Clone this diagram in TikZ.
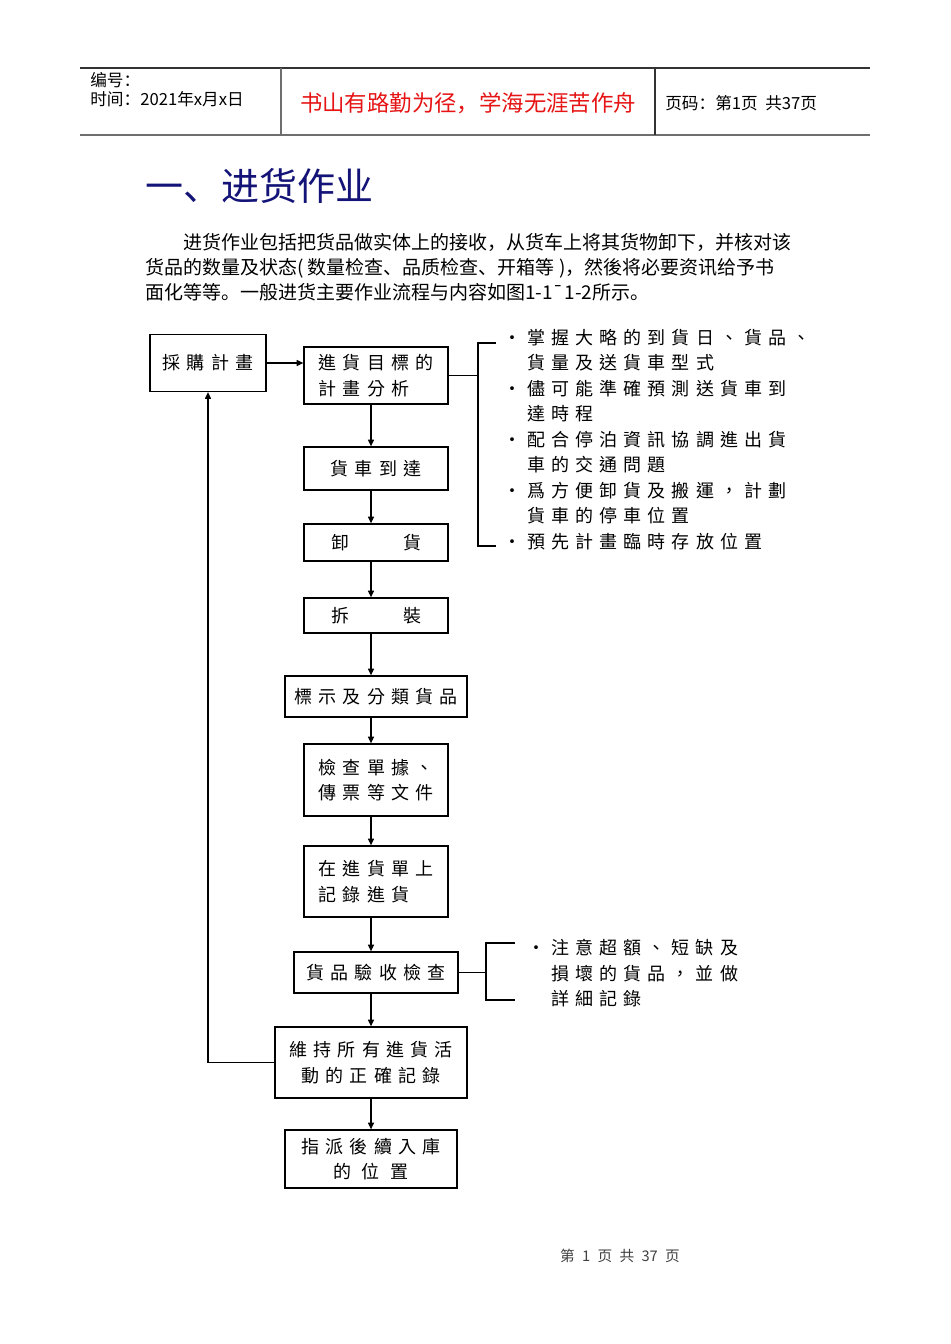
\documentclass[tikz,border=0pt]{standalone}
\usepackage{fontspec}
\usepackage{xcolor}
\usepackage{tikz}
\usetikzlibrary{positioning, arrows.meta, calc}
\setmainfont{Noto Sans CJK SC}
\newfontfamily\scfont{Noto Sans CJK SC}
\newfontfamily\tcfont[LetterSpace=34]{Noto Sans CJK TC}
\definecolor{TitleBlue}{RGB}{20,20,120}
\definecolor{MottoRed}{RGB}{230,20,20}
\definecolor{RuleGray}{RGB}{110,110,110}
\tikzset{
  flowbox/.style={draw=black, line width=1pt, fill=white, inner sep=2pt, align=center,
    font=\tcfont\fontsize{13.5}{19}\selectfont},
  arr/.style={-{Triangle[length=5pt,width=4.5pt]}, line width=0.8pt},
  brk/.style={line width=0.8pt},
  notes/.style={anchor=north west, inner sep=0pt, align=left,
    font=\tcfont\fontsize{13.5}{19.1}\selectfont},
  hdtxt/.style={anchor=west, inner sep=0pt, font=\scfont\fontsize{12.5}{15}\selectfont},
}
\newcommand{\bul}{\makebox[18pt][l]{\textbullet}}
\newcommand{\ind}{\hspace*{18pt}}

\begin{document}
\begin{tikzpicture}[x=0.75pt, y=-0.75pt]
    \fill[white] (0,0) rectangle (950,1344);
    \useasboundingbox (0,0) rectangle (950,1344);
    % page header
    \draw[line width=0.8pt, black!80] (80,68) -- (870,68);
    \draw[line width=1.4pt, RuleGray] (80,135) -- (870,135);
    \draw[line width=0.8pt, RuleGray] (281,68) -- (281,135);
    \draw[line width=0.8pt, black!80] (655,68) -- (655,135);
    \node[hdtxt] (no) at (90,80) {编号：};
    \node[hdtxt] (date) at (90,99) {时间：2021年x月x日};
    \node[font=\scfont\fontsize{16.8}{20}\selectfont, text=MottoRed] (motto) at (468,103) {书山有路勤为径，学海无涯苦作舟};
    \node[hdtxt] (pg) at (665,103) {页码：第1页\ \ 共37页};
    % title and text
    \node[anchor=west, inner sep=0pt, text=TitleBlue, font=\scfont\fontsize{28.5}{32}\selectfont] (title) at (145,186) {一、进货作业};
    \node[anchor=north west, inner sep=0pt, align=left, font=\scfont\fontsize{14.25}{18.75}\selectfont] (intro) at (145,233)
      {\hspace*{28.5pt}进货作业包括把货品做实体上的接收，从货车上将其货物卸下，并核对该\\
       货品的数量及状态( 数量检查、品质检查、开箱等 )，然後将必要资讯给予书\\
       面化等等。一般进货主要作业流程与内容如图1-1¯1-2所示。};
    % flow chart
    \node[flowbox, minimum width=87pt, minimum height=42.75pt] (buy) at (208,363) {採購計畫};
    \node[flowbox, minimum width=108pt, minimum height=42.75pt, align=left] (plan) at (376,375.5) {進貨目標的\\計畫分析};
    \node[flowbox, minimum width=108pt, minimum height=32.25pt] (arrive) at (376,468.5) {貨車到達};
    \node[flowbox, minimum width=108pt, minimum height=27.75pt] (unload) at (376,542.5) {卸\hspace{3em}貨};
    \node[flowbox, minimum width=108pt, minimum height=26.25pt] (unpack) at (376,615.5) {拆\hspace{3em}裝};
    \node[flowbox, minimum width=136.5pt, minimum height=30.75pt] (sort) at (376,696.5) {標示及分類貨品};
    \node[flowbox, minimum width=108pt, minimum height=54pt, align=left] (docs) at (376,780) {檢查單據、\\傳票等文件};
    \node[flowbox, minimum width=108pt, minimum height=53.25pt, align=left] (record) at (376,881.5) {在進貨單上\\記錄進貨};
    \node[flowbox, minimum width=123pt, minimum height=30.75pt] (inspect) at (376,972.5) {貨品驗收檢查};
    \node[flowbox, minimum width=144pt, minimum height=53.25pt] (keep) at (371,1062.5) {維持所有進貨活\\動的正確記錄};
    \node[flowbox, minimum width=129pt, minimum height=43.5pt] (assign) at (371,1159) {指派後續入庫\\的\hspace{0.6em}位\hspace{0.6em}置};
    \draw[arr] (buy.east) -- (buy.east -| plan.west);
    \foreach \a/\b in {plan/arrive, arrive/unload, unload/unpack, unpack/sort, sort/docs,
      docs/record, record/inspect, inspect/keep, keep/assign}
      \draw[arr] (\a.south -| keep.center) -- (\b.north -| keep.center);
    \draw[arr] (keep.west) -| (buy.south);
    % notes on the right
    \coordinate (b1) at (478,343);
    \coordinate (b1end) at (496,546);
    \draw[brk] (plan.east) -- (plan.east -| b1);
    \draw[brk] (b1 -| b1end) -- (b1) -- (b1 |- b1end) -- (b1end);
    \node[notes] (tips1) at (503,329)
      {\bul 掌握大略的到貨日、貨品、\\
       \ind 貨量及送貨車型式\\
       \bul 儘可能準確預測送貨車到\\
       \ind 達時程\\
       \bul 配合停泊資訊協調進出貨\\
       \ind 車的交通問題\\
       \bul 爲方便卸貨及搬運，計劃\\
       \ind 貨車的停車位置\\
       \bul 預先計畫臨時存放位置};
    \coordinate (b2) at (486,943);
    \coordinate (b2end) at (515,1000);
    \draw[brk] (inspect.east) -- (inspect.east -| b2);
    \draw[brk] (b2 -| b2end) -- (b2) -- (b2 |- b2end) -- (b2end);
    \node[notes] (tips2) at (527,939)
      {\bul 注意超額、短缺及\\
       \ind 損壞的貨品，並做\\
       \ind 詳細記錄};
    % footer
    \node[font=\scfont\fontsize{11}{13}\selectfont, text=black!75] (foot) at (620,1256) {第\enspace 1\enspace 页\enspace 共\enspace 37\enspace 页};
  \end{tikzpicture}
\end{document}
